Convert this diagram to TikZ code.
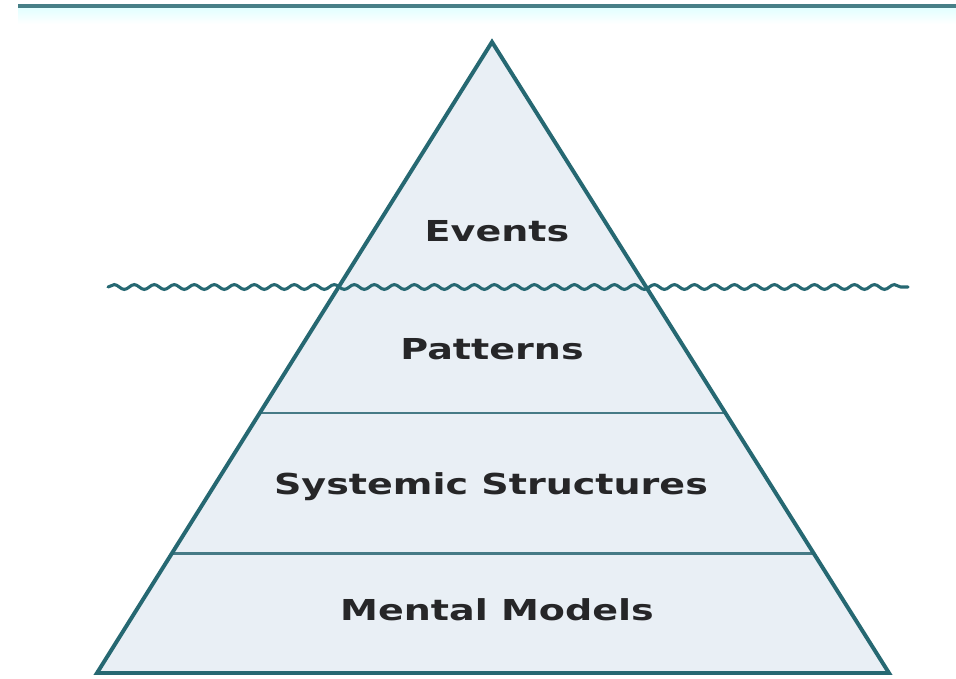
\documentclass[tikz,border=0pt]{standalone}
\usepackage{fontspec}
\usepackage{xcolor}
\usetikzlibrary{calc,decorations.pathmorphing}
\newfontfamily\pyrfont{DejaVu Sans}[FakeStretch=1.32]

\definecolor{edgeteal}{RGB}{38,104,114}
\definecolor{bandline}{RGB}{70,122,134}
\definecolor{pyrfill}{RGB}{233,239,245}
\definecolor{labelgray}{RGB}{38,38,40}

\begin{document}
\begin{tikzpicture}[
    x=0.025cm, y=-0.025cm,
    edge/.style={draw=edgeteal, line width=2.8pt, line join=miter},
    band/.style={draw=bandline, line width=2pt},
    wave/.style={draw=edgeteal, line width=2.2pt, line cap=round,
        decorate, decoration={snake, segment length=0.5cm, amplitude=0.06cm}},
    level/.style={font=\pyrfont\bfseries\fontsize{20.5pt}{24pt}\selectfont,
        text=labelgray, inner sep=0pt}
]
\useasboundingbox (0,0) rectangle (956,679);

% header rule across the top
\fill[top color=cyan!12, bottom color=white] (18,7) rectangle (956,24);
\draw[draw=edgeteal!85, line width=2.2pt] (18,6) -- (956,6);

% the pyramid
\coordinate (apex) at (492,42);
\coordinate (bl) at (97,673);
\coordinate (br) at (889,673);
\fill[pyrfill] (apex) -- (bl) -- (br) -- cycle;

% dividing lines between the lower levels
\coordinate (l1) at ($(apex)!0.588!(bl)$);
\coordinate (r1) at ($(apex)!0.588!(br)$);
\coordinate (l2) at ($(apex)!0.810!(bl)$);
\coordinate (r2) at ($(apex)!0.810!(br)$);
\draw[band] (l1) -- (r1);
\draw[band] (l2) -- (r2);

\draw[edge] (apex) -- (bl) -- (br) -- cycle;

% water line
\coordinate (wl) at (108,287);
\coordinate (wr) at (908,287);
\draw[wave] (wl) -- (wr);

\node[level] (events) at (497,231) {Events};
\node[level] (patterns) at (492,349) {Patterns};
\node[level] (structs) at (491,487) {Systemic Structures};
\node[level] (models) at (497,610) {Mental Models};
\end{tikzpicture}
\end{document}
